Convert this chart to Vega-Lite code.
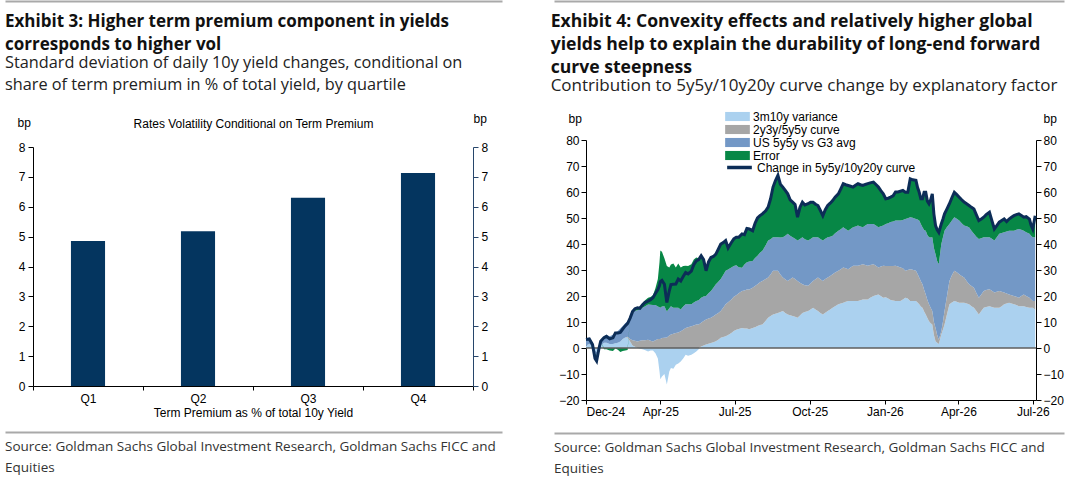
{
  "$schema": "https://vega.github.io/schema/vega-lite/v6.json",
  "background": "white",
  "padding": {"left": 5, "top": 1, "right": 0, "bottom": 0},
  "config": {
    "view": {"stroke": null},
    "font": "Liberation Sans",
    "axis": {
      "labelFont": "Liberation Sans", "labelFontSize": 12, "labelColor": "#000",
      "titleFont": "Liberation Sans", "titleFontSize": 12, "titleFontWeight": "normal", "titleColor": "#000",
      "domainColor": "#000", "tickColor": "#000", "grid": false
    },
    "legend": {"labelFont": "Liberation Sans", "labelFontSize": 12, "labelColor": "#000"},
    "title": {
      "font": "Open Sans", "fontSize": 17, "fontWeight": "bold", "color": "#111",
      "subtitleFont": "Open Sans", "subtitleFontSize": 16.3, "subtitleColor": "#222",
      "lineHeight": 23, "subtitleLineHeight": 22, "subtitlePadding": 1, "anchor": "start"
    }
  },
  "datasets": {
    "bars": [
      {"quartile": "Q1", "vol": 4.85},
      {"quartile": "Q2", "vol": 5.18},
      {"quartile": "Q3", "vol": 6.3},
      {"quartile": "Q4", "vol": 7.13}
    ],
    "factors": [
      {"factor": "lb", "rank": 1},
      {"factor": "gr", "rank": 2},
      {"factor": "us", "rank": 3},
      {"factor": "err", "rank": 4}
    ],
    "curve": [
      {"date": "2024-12-31", "lb": 1, "gr": 0, "us": 2, "err": 0.3, "chg": 3.3},
      {"date": "2025-01-04", "lb": 1.5, "gr": 0, "us": 2, "err": 0, "chg": 3.5},
      {"date": "2025-01-08", "lb": 0.5, "gr": 0, "us": 1.3, "err": -0.5, "chg": 1.3},
      {"date": "2025-01-11", "lb": -1, "gr": 0, "us": -1, "err": -2, "chg": -4},
      {"date": "2025-01-13", "lb": -1.5, "gr": 0, "us": -1.5, "err": -2, "chg": -5},
      {"date": "2025-01-16", "lb": 0, "gr": 0, "us": 0.5, "err": -0.5, "chg": 0},
      {"date": "2025-01-18", "lb": 1, "gr": 0, "us": 1.5, "err": 0.1, "chg": 2.6},
      {"date": "2025-01-22", "lb": 2, "gr": 0, "us": 2.5, "err": -0.5, "chg": 4},
      {"date": "2025-01-25", "lb": 2, "gr": 0, "us": 3, "err": -0.5, "chg": 4.5},
      {"date": "2025-01-29", "lb": 1.5, "gr": 0, "us": 3, "err": -1, "chg": 3.5},
      {"date": "2025-02-02", "lb": 1.5, "gr": 0, "us": 3.6, "err": -1.2, "chg": 3.9},
      {"date": "2025-02-05", "lb": 1.8, "gr": 0, "us": 4.2, "err": -0.2, "chg": 5.8},
      {"date": "2025-02-08", "lb": 2, "gr": 0, "us": 4.5, "err": -0.7, "chg": 5.8},
      {"date": "2025-02-11", "lb": 2.5, "gr": 0, "us": 5, "err": -1.5, "chg": 6},
      {"date": "2025-02-14", "lb": 3.5, "gr": 0, "us": 5, "err": -1.2, "chg": 7.3},
      {"date": "2025-02-17", "lb": 4, "gr": 0, "us": 5.5, "err": -1, "chg": 8.5},
      {"date": "2025-02-20", "lb": 4, "gr": 0.3, "us": 6, "err": -0.8, "chg": 9.5},
      {"date": "2025-02-23", "lb": 2.5, "gr": 1, "us": 8, "err": 0, "chg": 11.5},
      {"date": "2025-02-26", "lb": 1, "gr": 2, "us": 10.5, "err": 0.5, "chg": 14},
      {"date": "2025-03-01", "lb": 0.5, "gr": 2.3, "us": 11.5, "err": 0.8, "chg": 15.1},
      {"date": "2025-03-04", "lb": 0, "gr": 2.5, "us": 12, "err": 1, "chg": 15.5},
      {"date": "2025-03-07", "lb": -0.3, "gr": 2.8, "us": 12, "err": 0.8, "chg": 15.3},
      {"date": "2025-03-10", "lb": -0.5, "gr": 3, "us": 12.5, "err": 1.5, "chg": 16.5},
      {"date": "2025-03-13", "lb": -0.8, "gr": 3, "us": 13, "err": 2.3, "chg": 17.5},
      {"date": "2025-03-17", "lb": -1.3, "gr": 3.2, "us": 13.5, "err": 2.6, "chg": 18},
      {"date": "2025-03-20", "lb": -1, "gr": 2.8, "us": 13.8, "err": 3, "chg": 18.6},
      {"date": "2025-03-23", "lb": -1, "gr": 2.5, "us": 14, "err": 3.8, "chg": 19.3},
      {"date": "2025-03-26", "lb": -2, "gr": 3, "us": 13.5, "err": 6.5, "chg": 21},
      {"date": "2025-03-29", "lb": -4, "gr": 3.5, "us": 12.5, "err": 10.5, "chg": 22.5},
      {"date": "2025-03-31", "lb": -9, "gr": 3.5, "us": 12.2, "err": 17.3, "chg": 24},
      {"date": "2025-04-01", "lb": -12, "gr": 3.5, "us": 12, "err": 22, "chg": 25.5},
      {"date": "2025-04-03", "lb": -11, "gr": 3.8, "us": 12.2, "err": 21, "chg": 26},
      {"date": "2025-04-06", "lb": -10, "gr": 3.9, "us": 12.2, "err": 18.4, "chg": 24.5},
      {"date": "2025-04-09", "lb": -14, "gr": 4, "us": 10, "err": 17.5, "chg": 17.5},
      {"date": "2025-04-12", "lb": -9, "gr": 4.8, "us": 10.5, "err": 15.7, "chg": 22},
      {"date": "2025-04-14", "lb": -7.7, "gr": 5.2, "us": 10.9, "err": 16, "chg": 24.4},
      {"date": "2025-04-17", "lb": -8, "gr": 5.5, "us": 10, "err": 17, "chg": 24.5},
      {"date": "2025-04-20", "lb": -6.4, "gr": 5.8, "us": 9.7, "err": 15.5, "chg": 24.6},
      {"date": "2025-04-23", "lb": -6, "gr": 6, "us": 9.5, "err": 17, "chg": 26.5},
      {"date": "2025-04-26", "lb": -5.2, "gr": 6.4, "us": 8.4, "err": 16.2, "chg": 25.8},
      {"date": "2025-04-29", "lb": -4, "gr": 7, "us": 9, "err": 15.5, "chg": 27.5},
      {"date": "2025-05-02", "lb": -2.6, "gr": 7.7, "us": 9.1, "err": 14.8, "chg": 29},
      {"date": "2025-05-05", "lb": -3, "gr": 8, "us": 8.8, "err": 14.7, "chg": 28.5},
      {"date": "2025-05-09", "lb": -2.6, "gr": 8.4, "us": 8.4, "err": 15.4, "chg": 29.6},
      {"date": "2025-05-12", "lb": -2, "gr": 8.7, "us": 8.8, "err": 16.5, "chg": 32},
      {"date": "2025-05-15", "lb": -1.3, "gr": 9, "us": 9.1, "err": 16.7, "chg": 33.5},
      {"date": "2025-05-18", "lb": -0.5, "gr": 9, "us": 9.4, "err": 16.1, "chg": 34},
      {"date": "2025-05-21", "lb": 0.6, "gr": 9.1, "us": 9.6, "err": 16.2, "chg": 35.5},
      {"date": "2025-05-24", "lb": 1, "gr": 9.4, "us": 9.4, "err": 14.2, "chg": 34},
      {"date": "2025-05-27", "lb": 1.3, "gr": 9.7, "us": 9, "err": 9.7, "chg": 29.7},
      {"date": "2025-05-30", "lb": 1.6, "gr": 9.7, "us": 9.8, "err": 12, "chg": 33.1},
      {"date": "2025-06-02", "lb": 1.9, "gr": 9.7, "us": 10.3, "err": 12.9, "chg": 34.8},
      {"date": "2025-06-05", "lb": 2.2, "gr": 10, "us": 11, "err": 12, "chg": 35.2},
      {"date": "2025-06-08", "lb": 2.6, "gr": 10.3, "us": 11.6, "err": 11.6, "chg": 36.1},
      {"date": "2025-06-11", "lb": 3.2, "gr": 10.3, "us": 12, "err": 12.5, "chg": 38},
      {"date": "2025-06-14", "lb": 3.9, "gr": 10.3, "us": 12.3, "err": 13.5, "chg": 40},
      {"date": "2025-06-17", "lb": 4.2, "gr": 11.3, "us": 12.6, "err": 12.4, "chg": 40.5},
      {"date": "2025-06-20", "lb": 4.5, "gr": 12.3, "us": 12.9, "err": 11.6, "chg": 41.3},
      {"date": "2025-06-23", "lb": 5, "gr": 12.6, "us": 12.6, "err": 8.3, "chg": 38.5},
      {"date": "2025-06-27", "lb": 5.8, "gr": 12.9, "us": 12.3, "err": 9.6, "chg": 40.6},
      {"date": "2025-06-30", "lb": 6.5, "gr": 13.2, "us": 11.8, "err": 10.5, "chg": 42},
      {"date": "2025-07-03", "lb": 7, "gr": 13.3, "us": 11.5, "err": 10.8, "chg": 42.6},
      {"date": "2025-07-06", "lb": 7.3, "gr": 13.8, "us": 10, "err": 11.5, "chg": 42.6},
      {"date": "2025-07-10", "lb": 7.7, "gr": 14.2, "us": 9, "err": 13, "chg": 43.9},
      {"date": "2025-07-13", "lb": 7.5, "gr": 14.6, "us": 10, "err": 11.5, "chg": 43.6},
      {"date": "2025-07-16", "lb": 7.5, "gr": 15, "us": 10.5, "err": 13, "chg": 46},
      {"date": "2025-07-19", "lb": 7.2, "gr": 15.3, "us": 10.8, "err": 12.5, "chg": 45.8},
      {"date": "2025-07-23", "lb": 7.7, "gr": 15.5, "us": 10.3, "err": 11.6, "chg": 45.1},
      {"date": "2025-07-26", "lb": 8, "gr": 15.8, "us": 10.8, "err": 13.4, "chg": 48},
      {"date": "2025-07-29", "lb": 8.5, "gr": 16, "us": 11, "err": 14.5, "chg": 50},
      {"date": "2025-08-01", "lb": 8.8, "gr": 16.5, "us": 11.3, "err": 14.3, "chg": 50.9},
      {"date": "2025-08-04", "lb": 9, "gr": 16.8, "us": 11.6, "err": 14.2, "chg": 51.6},
      {"date": "2025-08-08", "lb": 10.5, "gr": 16, "us": 13, "err": 13.3, "chg": 52.8},
      {"date": "2025-08-11", "lb": 11.6, "gr": 15.5, "us": 14.2, "err": 12.9, "chg": 54.2},
      {"date": "2025-08-14", "lb": 12.3, "gr": 16, "us": 13.5, "err": 15.6, "chg": 57.4},
      {"date": "2025-08-17", "lb": 12.9, "gr": 16.8, "us": 12.9, "err": 19.3, "chg": 61.9},
      {"date": "2025-08-20", "lb": 13.2, "gr": 16.5, "us": 12.9, "err": 21.8, "chg": 64.4},
      {"date": "2025-08-23", "lb": 13.5, "gr": 16.2, "us": 12.9, "err": 23.8, "chg": 66.4},
      {"date": "2025-08-26", "lb": 13.8, "gr": 14.5, "us": 14.2, "err": 20.5, "chg": 63},
      {"date": "2025-08-29", "lb": 14.2, "gr": 12.9, "us": 15.5, "err": 19.3, "chg": 61.9},
      {"date": "2025-09-01", "lb": 13.5, "gr": 12.9, "us": 16.8, "err": 17.4, "chg": 60.6},
      {"date": "2025-09-04", "lb": 12.9, "gr": 12.9, "us": 18.1, "err": 15.4, "chg": 59.3},
      {"date": "2025-09-07", "lb": 12.6, "gr": 13.8, "us": 16.8, "err": 13.8, "chg": 57},
      {"date": "2025-09-10", "lb": 12.3, "gr": 14.8, "us": 15.5, "err": 13.5, "chg": 56.1},
      {"date": "2025-09-13", "lb": 12, "gr": 14.5, "us": 15.5, "err": 13.2, "chg": 55.2},
      {"date": "2025-09-16", "lb": 11.6, "gr": 14.2, "us": 15.5, "err": 9, "chg": 50.3},
      {"date": "2025-09-19", "lb": 12.5, "gr": 12.6, "us": 16.8, "err": 12.2, "chg": 54.1},
      {"date": "2025-09-22", "lb": 13.5, "gr": 11, "us": 18.1, "err": 13.5, "chg": 56.1},
      {"date": "2025-09-25", "lb": 13.8, "gr": 10.3, "us": 17.7, "err": 13.2, "chg": 55},
      {"date": "2025-09-29", "lb": 14.2, "gr": 9.7, "us": 17.4, "err": 14.2, "chg": 55.5},
      {"date": "2025-10-02", "lb": 14.8, "gr": 10, "us": 17.1, "err": 14.2, "chg": 56.1},
      {"date": "2025-10-05", "lb": 15.5, "gr": 10.3, "us": 16.8, "err": 13.5, "chg": 56.1},
      {"date": "2025-10-08", "lb": 14.8, "gr": 11.6, "us": 16.2, "err": 12.7, "chg": 55.3},
      {"date": "2025-10-11", "lb": 14.2, "gr": 12.9, "us": 15.5, "err": 12.2, "chg": 54.8},
      {"date": "2025-10-14", "lb": 13.5, "gr": 12.9, "us": 15.5, "err": 11, "chg": 52.9},
      {"date": "2025-10-17", "lb": 12.9, "gr": 12.9, "us": 15.5, "err": 9.6, "chg": 50.9},
      {"date": "2025-10-20", "lb": 13.6, "gr": 12.9, "us": 15.5, "err": 11.2, "chg": 53.2},
      {"date": "2025-10-23", "lb": 14.2, "gr": 12.9, "us": 15.5, "err": 12.2, "chg": 54.8},
      {"date": "2025-10-26", "lb": 14.8, "gr": 12.9, "us": 15.1, "err": 12.9, "chg": 55.7},
      {"date": "2025-10-29", "lb": 15.5, "gr": 12.9, "us": 14.8, "err": 13.5, "chg": 56.7},
      {"date": "2025-11-01", "lb": 16.1, "gr": 12.9, "us": 15.1, "err": 13.9, "chg": 58},
      {"date": "2025-11-05", "lb": 16.8, "gr": 12.9, "us": 15.4, "err": 14.2, "chg": 59.3},
      {"date": "2025-11-08", "lb": 17.1, "gr": 13.2, "us": 15.4, "err": 15.5, "chg": 61.2},
      {"date": "2025-11-11", "lb": 17.4, "gr": 13.6, "us": 15.4, "err": 16.8, "chg": 63.2},
      {"date": "2025-11-14", "lb": 17.8, "gr": 12.9, "us": 15.1, "err": 17, "chg": 62.8},
      {"date": "2025-11-17", "lb": 18.1, "gr": 12.2, "us": 14.8, "err": 17.4, "chg": 62.5},
      {"date": "2025-11-20", "lb": 18.1, "gr": 12.9, "us": 14.8, "err": 16.4, "chg": 62.2},
      {"date": "2025-11-23", "lb": 18.1, "gr": 13.5, "us": 14.8, "err": 15.5, "chg": 61.9},
      {"date": "2025-11-26", "lb": 18.1, "gr": 13.5, "us": 15.1, "err": 15.9, "chg": 62.6},
      {"date": "2025-11-29", "lb": 18.1, "gr": 13.5, "us": 15.5, "err": 16.1, "chg": 63.2},
      {"date": "2025-12-02", "lb": 18.4, "gr": 13.5, "us": 14.8, "err": 16.1, "chg": 62.8},
      {"date": "2025-12-05", "lb": 18.7, "gr": 13.5, "us": 14.2, "err": 16.1, "chg": 62.5},
      {"date": "2025-12-08", "lb": 18.7, "gr": 13.2, "us": 15.2, "err": 15.8, "chg": 62.9},
      {"date": "2025-12-11", "lb": 18.7, "gr": 12.9, "us": 16.1, "err": 15.5, "chg": 63.2},
      {"date": "2025-12-14", "lb": 19.3, "gr": 12.6, "us": 15.8, "err": 15.8, "chg": 63.5},
      {"date": "2025-12-18", "lb": 20, "gr": 12.2, "us": 15.5, "err": 16.1, "chg": 63.8},
      {"date": "2025-12-21", "lb": 20.3, "gr": 11.3, "us": 15.5, "err": 15.8, "chg": 62.9},
      {"date": "2025-12-24", "lb": 20.6, "gr": 10.4, "us": 15.4, "err": 15.5, "chg": 61.9},
      {"date": "2025-12-27", "lb": 20, "gr": 11.3, "us": 15.5, "err": 13.7, "chg": 60.5},
      {"date": "2025-12-30", "lb": 19.3, "gr": 12.3, "us": 15.5, "err": 12.2, "chg": 59.3},
      {"date": "2026-01-02", "lb": 19.5, "gr": 12, "us": 16.2, "err": 9.7, "chg": 57.4},
      {"date": "2026-01-05", "lb": 19, "gr": 12.5, "us": 16.5, "err": 9.6, "chg": 57.6},
      {"date": "2026-01-08", "lb": 18.5, "gr": 13, "us": 17, "err": 9.5, "chg": 58},
      {"date": "2026-01-11", "lb": 18.3, "gr": 13.2, "us": 17.2, "err": 9.8, "chg": 58.5},
      {"date": "2026-01-14", "lb": 18.1, "gr": 13.5, "us": 17.4, "err": 11, "chg": 60},
      {"date": "2026-01-17", "lb": 18.1, "gr": 13.2, "us": 17.7, "err": 11, "chg": 60},
      {"date": "2026-01-20", "lb": 18.1, "gr": 12.9, "us": 18, "err": 11.3, "chg": 60.3},
      {"date": "2026-01-23", "lb": 18.7, "gr": 12, "us": 18.5, "err": 11.4, "chg": 60.6},
      {"date": "2026-01-26", "lb": 19.3, "gr": 10.4, "us": 19.9, "err": 10.3, "chg": 59.9},
      {"date": "2026-01-29", "lb": 19, "gr": 11, "us": 19.9, "err": 10, "chg": 59.9},
      {"date": "2026-02-01", "lb": 18.1, "gr": 12.2, "us": 20, "err": 14.8, "chg": 65.1},
      {"date": "2026-02-04", "lb": 18.1, "gr": 12, "us": 20, "err": 14.6, "chg": 64.7},
      {"date": "2026-02-08", "lb": 18.1, "gr": 11.6, "us": 19.9, "err": 14.9, "chg": 64.5},
      {"date": "2026-02-10", "lb": 17.5, "gr": 11, "us": 20.9, "err": 12.3, "chg": 61.7},
      {"date": "2026-02-12", "lb": 16.8, "gr": 10.3, "us": 21.9, "err": 10.9, "chg": 59.9},
      {"date": "2026-02-14", "lb": 16, "gr": 9.7, "us": 22, "err": 9.7, "chg": 57.4},
      {"date": "2026-02-16", "lb": 15.5, "gr": 9, "us": 21.9, "err": 11, "chg": 57.4},
      {"date": "2026-02-18", "lb": 14, "gr": 8.4, "us": 23, "err": 14.5, "chg": 59.9},
      {"date": "2026-02-20", "lb": 12.9, "gr": 7.7, "us": 24.5, "err": 14.8, "chg": 59.9},
      {"date": "2026-02-22", "lb": 11.5, "gr": 7, "us": 25, "err": 13, "chg": 56.5},
      {"date": "2026-02-24", "lb": 10.3, "gr": 6.5, "us": 25.8, "err": 12.9, "chg": 55.5},
      {"date": "2026-02-26", "lb": 9.5, "gr": 6, "us": 27, "err": 14.5, "chg": 57},
      {"date": "2026-02-28", "lb": 9, "gr": 5.2, "us": 28.4, "err": 16.7, "chg": 59.3},
      {"date": "2026-03-02", "lb": 5, "gr": 5, "us": 28.5, "err": 13, "chg": 51.5},
      {"date": "2026-03-04", "lb": 2.6, "gr": 5.1, "us": 28.4, "err": 11, "chg": 47.1},
      {"date": "2026-03-06", "lb": 2, "gr": 3, "us": 28.5, "err": 12, "chg": 45.5},
      {"date": "2026-03-08", "lb": 1.5, "gr": 1.7, "us": 29, "err": 12.3, "chg": 44.5},
      {"date": "2026-03-11", "lb": 5.2, "gr": 1.2, "us": 33.5, "err": 7.8, "chg": 47.7},
      {"date": "2026-03-13", "lb": 7, "gr": 3, "us": 32.5, "err": 7, "chg": 49.5},
      {"date": "2026-03-15", "lb": 9, "gr": 5.2, "us": 30.9, "err": 6.5, "chg": 51.6},
      {"date": "2026-03-18", "lb": 13, "gr": 7, "us": 26.5, "err": 7, "chg": 53.5},
      {"date": "2026-03-21", "lb": 16.8, "gr": 9, "us": 21.9, "err": 7.8, "chg": 55.5},
      {"date": "2026-03-24", "lb": 17.5, "gr": 10.5, "us": 21, "err": 8.8, "chg": 57.8},
      {"date": "2026-03-27", "lb": 18.1, "gr": 11.6, "us": 20.6, "err": 9.6, "chg": 59.9},
      {"date": "2026-03-30", "lb": 17.8, "gr": 11.3, "us": 20.6, "err": 9.3, "chg": 59},
      {"date": "2026-04-02", "lb": 17.4, "gr": 11, "us": 20.6, "err": 9, "chg": 58},
      {"date": "2026-04-05", "lb": 17.4, "gr": 10.3, "us": 20.3, "err": 9, "chg": 57},
      {"date": "2026-04-08", "lb": 17.4, "gr": 9.7, "us": 20, "err": 9, "chg": 56.1},
      {"date": "2026-04-11", "lb": 17.1, "gr": 8.7, "us": 21, "err": 8.7, "chg": 55.5},
      {"date": "2026-04-14", "lb": 16.8, "gr": 7.7, "us": 21.9, "err": 8.4, "chg": 54.8},
      {"date": "2026-04-17", "lb": 16.1, "gr": 7.7, "us": 21.3, "err": 9, "chg": 54.1},
      {"date": "2026-04-20", "lb": 15.5, "gr": 7.7, "us": 20.7, "err": 9.6, "chg": 53.5},
      {"date": "2026-04-23", "lb": 14.2, "gr": 7, "us": 21.6, "err": 8.4, "chg": 51.2},
      {"date": "2026-04-26", "lb": 12.9, "gr": 6.4, "us": 22.6, "err": 7.1, "chg": 49},
      {"date": "2026-04-29", "lb": 14.2, "gr": 6.4, "us": 21.6, "err": 7.4, "chg": 49.6},
      {"date": "2026-05-02", "lb": 15.5, "gr": 6.4, "us": 20.7, "err": 7.7, "chg": 50.3},
      {"date": "2026-05-05", "lb": 15.8, "gr": 6.5, "us": 20.3, "err": 8.7, "chg": 51.3},
      {"date": "2026-05-09", "lb": 16.1, "gr": 6.5, "us": 20, "err": 9.6, "chg": 52.2},
      {"date": "2026-05-12", "lb": 15.8, "gr": 6.2, "us": 20, "err": 7, "chg": 49},
      {"date": "2026-05-15", "lb": 15.5, "gr": 5.8, "us": 20, "err": 4.5, "chg": 45.8},
      {"date": "2026-05-18", "lb": 15.5, "gr": 6.1, "us": 21, "err": 4.5, "chg": 47.1},
      {"date": "2026-05-21", "lb": 15.5, "gr": 6.4, "us": 22, "err": 4.5, "chg": 48.4},
      {"date": "2026-05-24", "lb": 16.1, "gr": 5.5, "us": 22.6, "err": 4.8, "chg": 49},
      {"date": "2026-05-27", "lb": 16.8, "gr": 4.5, "us": 23.2, "err": 5.1, "chg": 49.6},
      {"date": "2026-05-30", "lb": 17.1, "gr": 3.9, "us": 23.8, "err": 3.8, "chg": 48.6},
      {"date": "2026-06-02", "lb": 17.4, "gr": 3.2, "us": 24.5, "err": 4.5, "chg": 49.6},
      {"date": "2026-06-05", "lb": 17.1, "gr": 3.2, "us": 24.8, "err": 5.2, "chg": 50.3},
      {"date": "2026-06-08", "lb": 16.8, "gr": 3.2, "us": 25.1, "err": 5.8, "chg": 50.9},
      {"date": "2026-06-11", "lb": 16.5, "gr": 3.2, "us": 25.8, "err": 5.8, "chg": 51.3},
      {"date": "2026-06-14", "lb": 16.1, "gr": 3.2, "us": 26.5, "err": 5.8, "chg": 51.6},
      {"date": "2026-06-17", "lb": 16.1, "gr": 3.9, "us": 25.5, "err": 5.5, "chg": 51},
      {"date": "2026-06-20", "lb": 16.1, "gr": 4.5, "us": 24.5, "err": 5.2, "chg": 50.3},
      {"date": "2026-06-23", "lb": 15.8, "gr": 4.2, "us": 24.5, "err": 6, "chg": 50.5},
      {"date": "2026-06-27", "lb": 15.5, "gr": 3.8, "us": 24.6, "err": 5.7, "chg": 49.6},
      {"date": "2026-06-29", "lb": 15.5, "gr": 3.2, "us": 24.5, "err": 4, "chg": 47.2},
      {"date": "2026-07-01", "lb": 15.5, "gr": 2.6, "us": 24.5, "err": 3.2, "chg": 45.8},
      {"date": "2026-07-04", "lb": 14.8, "gr": 3.3, "us": 24.5, "err": 8.3, "chg": 50.9}
    ]
  },
  "spacing": 20,
  "resolve": {"scale": {"fill": "independent", "stroke": "independent"}, "legend": {"fill": "independent", "stroke": "independent"}},
  "hconcat": [
    {
      "spacing": 7,
      "vconcat": [
        {
          "width": 400, "height": 4, "data": {"values": []}, "mark": "rule",
          "encoding": {"x": {"field": "p", "type": "quantitative", "scale": {"domain": [0, 1], "range": [-28, 469]}, "axis": {"orient": "top", "labels": false, "ticks": false, "title": null, "domainColor": "#a9a9a9", "domainWidth": 2}}}
        },
        {
          "width": 440,
          "height": 239,
          "title": {
            "text": ["Exhibit 3: Higher term premium component in yields", "corresponds to higher vol"],
            "subtitle": ["Standard deviation of daily 10y yield changes, conditional on", "share of term premium in % of total yield, by quartile"],
            "dx": -12,
            "offset": 18
          },
          "data": {"name": "bars"},
          "layer": [
            {
              "mark": {"type": "bar", "color": "#04355f", "width": {"band": 0.31}},
              "encoding": {
                "x": {
                  "field": "quartile", "type": "nominal", "sort": null,
                  "scale": {"paddingInner": 0, "paddingOuter": 0},
                  "axis": {"orient": "bottom", "title": "Term Premium as % of  total 10y Yield", "labelAngle": 0, "tickBand": "extent", "tickSize": 4, "labelPadding": 3, "titlePadding": 3}
                },
                "y": {
                  "field": "vol", "type": "quantitative",
                  "scale": {"domain": [0, 8], "nice": false},
                  "axis": {"orient": "left", "values": [0, 1, 2, 3, 4, 5, 6, 7, 8], "title": "bp", "titleAngle": 0, "titleAlign": "left", "titleBaseline": "alphabetic", "titleX": -16, "titleY": -21, "tickSize": 5, "labelPadding": 3}
                }
              }
            },
            {
              "mark": {"type": "bar", "opacity": 0, "width": {"band": 0.31}},
              "encoding": {
                "x": {
                  "field": "quartile", "type": "nominal", "sort": null,
                  "axis": {"orient": "top", "title": "Rates Volatility Conditional on Term Premium", "labels": false, "ticks": false, "domain": false, "titleBaseline": "alphabetic", "titleY": -20}
                },
                "y": {
                  "field": "vol", "type": "quantitative",
                  "axis": {"orient": "right", "values": [0, 1, 2, 3, 4, 5, 6, 7, 8], "title": "bp", "titleAngle": 0, "titleAlign": "left", "titleBaseline": "alphabetic", "titleX": 0, "titleY": -25, "tickSize": 5, "labelPadding": 3, "domainColor": "#27466b", "tickColor": "#27466b"}
                }
              }
            }
          ],
          "resolve": {"axis": {"x": "independent", "y": "independent"}}
        },
        {
          "width": 400, "height": 7, "data": {"values": []}, "mark": "rule",
          "encoding": {"x": {"field": "p", "type": "quantitative", "scale": {"domain": [0, 1], "range": [-28, 469]}, "axis": {"orient": "bottom", "labels": false, "ticks": false, "title": null, "domainColor": "#a9a9a9", "domainWidth": 2}}}
        },
        {
          "width": 400, "height": 1, "data": {"values": []}, "mark": "rule", "encoding": {},
          "title": {"text": ["Source: Goldman Sachs Global Investment Research, Goldman Sachs FICC and", "Equities"], "dx": -28, "offset": 0, "font": "Open Sans", "fontSize": 13.5, "fontWeight": "normal", "color": "#333", "lineHeight": 21}
        }
      ]
    },
    {
      "spacing": 7,
      "resolve": {"scale": {"fill": "independent", "stroke": "independent"}, "legend": {"fill": "independent", "stroke": "independent"}},
      "vconcat": [
        {
          "width": 400, "height": 5, "data": {"values": []}, "mark": "rule",
          "encoding": {"x": {"field": "p", "type": "quantitative", "scale": {"domain": [0, 1], "range": [-32, 478]}, "axis": {"orient": "top", "labels": false, "ticks": false, "title": null, "domainColor": "#a9a9a9", "domainWidth": 2}}}
        },
        {
          "width": 450,
          "height": 260,
          "title": {
            "text": ["Exhibit 4: Convexity effects and relatively higher global", "yields help to explain the durability of long-end forward", "curve steepness"],
            "subtitle": ["Contribution to 5y5y/10y20y curve change by explanatory factor"],
            "fontSize": 17.6,
            "subtitleFontSize": 17,
            "dx": -8,
            "offset": 16
          },
          "layer": [
            {
              "data": {"name": "curve"},
              "transform": [
                {"fold": ["lb", "gr", "us", "err"], "as": ["factor", "value"]},
                {"lookup": "factor", "from": {"data": {"name": "factors"}, "key": "factor", "fields": ["rank"]}}
              ],
              "mark": {"type": "area", "interpolate": "linear"},
              "encoding": {
                "x": {
                  "field": "date", "type": "temporal",
                  "scale": {"type": "utc", "domain": [{"year": 2024, "month": 12, "date": 31, "utc": true}, {"year": 2026, "month": 7, "date": 5, "utc": true}]},
                  "axis": {
                    "title": null, "format": "%b-%y", "tickSize": 4, "labelPadding": 2,
                    "values": [
                      {"year": 2024, "month": 12, "date": 31, "utc": true},
                      {"year": 2025, "month": 4, "date": 1, "utc": true},
                      {"year": 2025, "month": 7, "date": 1, "utc": true},
                      {"year": 2025, "month": 10, "date": 1, "utc": true},
                      {"year": 2026, "month": 1, "date": 1, "utc": true},
                      {"year": 2026, "month": 4, "date": 1, "utc": true},
                      {"year": 2026, "month": 7, "date": 1, "utc": true}
                    ]
                  }
                },
                "y": {
                  "field": "value", "type": "quantitative", "stack": "zero",
                  "scale": {"domain": [-20, 80], "nice": false},
                  "axis": {"orient": "left", "values": [-20, -10, 0, 10, 20, 30, 40, 50, 60, 70, 80], "title": "bp", "titleAngle": 0, "titleAlign": "left", "titleBaseline": "alphabetic", "titleX": -18, "titleY": -18, "tickSize": 5, "labelPadding": 2}
                },
                "order": {"field": "rank", "type": "quantitative", "sort": "ascending"},
                "fill": {
                  "field": "factor", "type": "nominal",
                  "scale": {"domain": ["lb", "gr", "us", "err"], "range": ["#abd1ef", "#a6a6a6", "#7398c6", "#078746"]},
                  "legend": {
                    "orient": "none", "legendX": 145, "legendY": -30, "title": null, "padding": 0, "rowPadding": 0,
                    "symbolType": "M-1.9,-0.7H1.9V0.7H-1.9Z", "symbolSize": 169, "symbolStrokeWidth": 0, "symbolOpacity": 1, "labelOffset": 9,
                    "labelExpr": "{'lb': '3m10y variance', 'gr': '2y3y/5y5y curve', 'us': 'US 5y5y vs G3 avg', 'err': 'Error'}[datum.label]"
                  }
                }
              }
            },
            {
              "data": {"values": [{}]},
              "mark": {"type": "rule", "color": "#5e5e5e", "strokeWidth": 1.5},
              "encoding": {"y": {"datum": 0, "type": "quantitative", "axis": null}}
            },
            {
              "data": {"name": "curve"},
              "mark": {"type": "line", "strokeWidth": 3, "interpolate": "linear"},
              "encoding": {
                "x": {
                  "field": "date", "type": "temporal",
                  "axis": {
                    "title": null, "format": "%b-%y", "tickSize": 4, "labelPadding": 2,
                    "values": [
                      {"year": 2024, "month": 12, "date": 31, "utc": true},
                      {"year": 2025, "month": 4, "date": 1, "utc": true},
                      {"year": 2025, "month": 7, "date": 1, "utc": true},
                      {"year": 2025, "month": 10, "date": 1, "utc": true},
                      {"year": 2026, "month": 1, "date": 1, "utc": true},
                      {"year": 2026, "month": 4, "date": 1, "utc": true},
                      {"year": 2026, "month": 7, "date": 1, "utc": true}
                    ]
                  }
                },
                "y": {
                  "field": "chg", "type": "quantitative",
                  "axis": {"orient": "right", "values": [-20, -10, 0, 10, 20, 30, 40, 50, 60, 70, 80], "title": "bp", "titleAngle": 0, "titleAlign": "left", "titleBaseline": "alphabetic", "titleX": 7, "titleY": -18, "tickSize": 5, "labelPadding": 2}
                },
                "stroke": {
                  "datum": "Change in 5y5y/10y20y curve",
                  "scale": {"range": ["#0c2d57"]},
                  "legend": {"orient": "none", "legendX": 145, "legendY": 19, "title": null, "padding": 0, "symbolType": "M-1.9,0H1.9", "symbolSize": 169, "symbolStrokeWidth": 3.5, "labelOffset": 9}
                }
              }
            }
          ],
          "resolve": {"axis": {"y": "independent"}}
        },
        {
          "width": 400, "height": 9, "data": {"values": []}, "mark": "rule",
          "encoding": {"x": {"field": "p", "type": "quantitative", "scale": {"domain": [0, 1], "range": [-32, 478]}, "axis": {"orient": "bottom", "labels": false, "ticks": false, "title": null, "domainColor": "#a9a9a9", "domainWidth": 2}}}
        },
        {
          "width": 400, "height": 1, "data": {"values": []}, "mark": "rule", "encoding": {},
          "title": {"text": ["Source: Goldman Sachs Global Investment Research, Goldman Sachs FICC and", "Equities"], "dx": -32, "offset": 0, "font": "Open Sans", "fontSize": 13.5, "fontWeight": "normal", "color": "#333", "lineHeight": 21}
        }
      ]
    }
  ]
}
